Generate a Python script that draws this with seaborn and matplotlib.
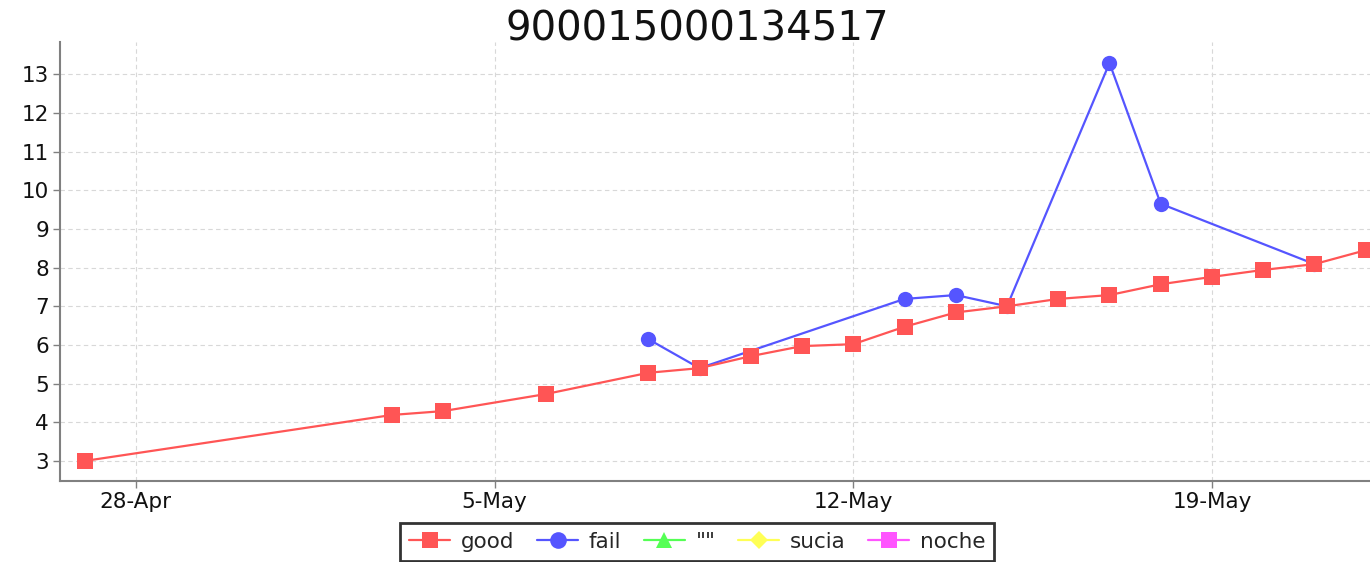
import pandas as pd
import matplotlib.pyplot as plt
import matplotlib.dates as mdates
from matplotlib.lines import Line2D
import seaborn as sns

title = "900015000134517"

good_dates = [
    "2019-04-27", "2019-05-03", "2019-05-04", "2019-05-06", "2019-05-08",
    "2019-05-09", "2019-05-10", "2019-05-11", "2019-05-12", "2019-05-13",
    "2019-05-14", "2019-05-15", "2019-05-16", "2019-05-17", "2019-05-18",
    "2019-05-19", "2019-05-20", "2019-05-21", "2019-05-22",
]
good_values = [
    3.0, 4.19, 4.29, 4.73, 5.28, 5.40, 5.71, 5.97, 6.02, 6.47,
    6.84, 7.0, 7.19, 7.29, 7.57, 7.76, 7.94, 8.09, 8.45,
]

fail_dates = [
    "2019-05-08", "2019-05-09", "2019-05-13", "2019-05-14", "2019-05-15",
    "2019-05-17", "2019-05-18", "2019-05-21",
]
fail_values = [6.15, 5.40, 7.19, 7.29, 7.0, 13.29, 9.65, 8.09]

legend_labels = ["good", "fail", '""', "sucia", "noche"]
legend_colors = ["#FF5555", "#5555FF", "#55FF55", "#FFFF55", "#FF55FF"]
legend_markers = ["s", "o", "^", "D", "s"]

x_ticks = ["2019-04-28", "2019-05-05", "2019-05-12", "2019-05-19"]


sns.set_theme(style="white")
plt.rcParams["font.family"] = ["DejaVu Sans"]

fig = plt.figure(figsize=(13.7, 5.62), dpi=100)
ax = fig.add_axes([0.0438, 0.144, 0.9562, 0.781])

good = pd.DataFrame({"date": pd.to_datetime(good_dates), "value": good_values})
fail = pd.DataFrame({"date": pd.to_datetime(fail_dates), "value": fail_values})

# fail first so the good series sits on top, like the original
sns.lineplot(data=fail, x="date", y="value", ax=ax, color=legend_colors[1],
             marker="o", markersize=11, markeredgewidth=0, linewidth=1.6,
             zorder=3)
sns.lineplot(data=good, x="date", y="value", ax=ax, color=legend_colors[0],
             marker="s", markersize=11.5, markeredgewidth=0, linewidth=1.6,
             zorder=4)

ax.set_ylim(2.48, 13.83)
ax.set_yticks(range(3, 14))
ax.set_xlim(pd.Timestamp("2019-04-26 12:30"), pd.Timestamp("2019-05-22 02:00"))
ax.set_xticks(pd.to_datetime(x_ticks))
ax.xaxis.set_major_formatter(mdates.DateFormatter("%-d-%b"))
ax.set_xlabel("")
ax.set_ylabel("")

ax.grid(True, linestyle=(0, (4, 3)), color="#d8d8d8", linewidth=0.8)
ax.set_axisbelow(True)
for side in ["top", "right"]:
    ax.spines[side].set_visible(False)
for side in ["left", "bottom"]:
    ax.spines[side].set_color("#808080")
    ax.spines[side].set_linewidth(1.5)
ax.tick_params(axis="both", labelsize=15.5, colors="#111111", length=5,
               width=1, direction="out", color="#808080",
               left=True, bottom=True, pad=3)

fig.text(0.509, 0.948, title, ha="center", va="center", fontsize=29,
         color="#111111")

handles = [
    Line2D([0], [0], color=c, marker=m, markersize=12 if m != "D" else 9,
           markeredgewidth=0, linewidth=1.6)
    for c, m in zip(legend_colors, legend_markers)
]
leg = fig.legend(handles, legend_labels, loc="center", ncol=5,
                 bbox_to_anchor=(0.509, 0.036), fontsize=15.5, frameon=True,
                 fancybox=False, handlelength=1.9, columnspacing=1.05,
                 handletextpad=0.5, borderpad=0.42, borderaxespad=0)
leg.get_frame().set_edgecolor("black")
leg.get_frame().set_linewidth(2)

fig.savefig("out.png", dpi=100)
